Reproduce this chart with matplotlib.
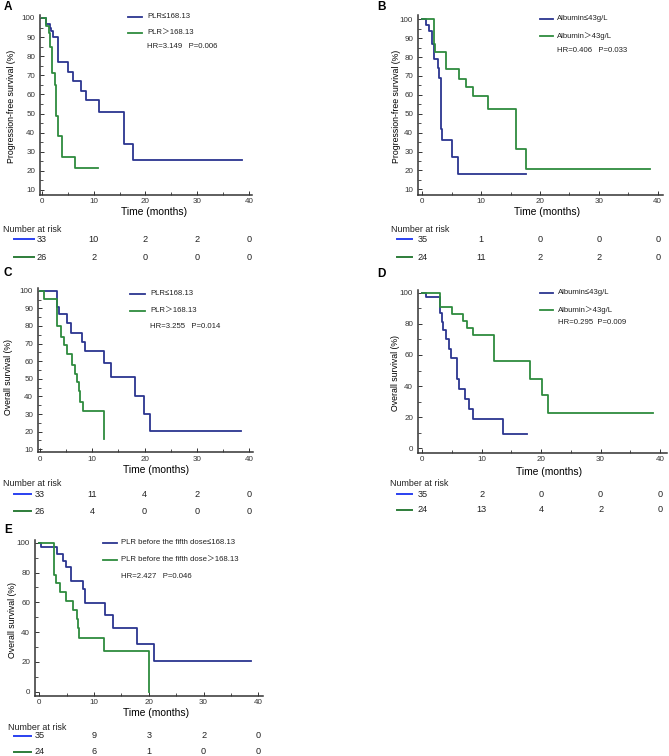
import matplotlib.pyplot as plt
from matplotlib.lines import Line2D
from matplotlib.ticker import MultipleLocator
import matplotlib.transforms as mtransforms

plt.rcParams['font.family'] = ['Liberation Sans', 'Noto Sans CJK SC', 'DejaVu Sans']

W, H = 669, 756
BLUE = '#2b3590'
GREEN = '#2e8b3e'
RISK_BLUE = '#2a40f0'
RISK_GREEN = '#2e7d3a'

risk_times = [0, 10, 20, 30, 40]

# A: PFS by PLR
a_blue_t = [0, 0.8, 1.5, 1.8, 2.1, 3.1, 5.0, 6.0, 7.5, 8.5, 11.0, 15.9, 17.6, 38.7]
a_blue_s = [100, 97, 95, 93, 90, 77, 72, 67, 62, 57, 51, 34, 25.5, 25.5]
a_green_t = [0, 0.7, 1.3, 1.6, 2.0, 2.5, 2.8, 3.1, 3.9, 6.3, 10.8]
a_green_s = [100, 96, 92, 85, 71, 65, 48.5, 38.5, 27.5, 21.5, 21.5]
a_risk_blue = [33, 10, 2, 2, 0]
a_risk_green = [26, 2, 0, 0, 0]

# B: PFS by albumin
b_blue_t = [0, 0.7, 1.1, 1.6, 2.0, 2.7, 2.9, 3.1, 3.2, 3.4, 5.1, 6.0, 17.7]
b_blue_s = [100, 97, 94, 87, 79, 74, 69, 63, 42, 36, 27, 18, 18]
b_green_t = [0, 2.0, 2.2, 4.0, 6.3, 7.5, 8.7, 11.1, 16.0, 17.6, 38.7]
b_green_s = [100, 87, 82.5, 73.5, 68.5, 64, 59.5, 52.5, 31.5, 21, 21]
b_risk_blue = [35, 1, 0, 0, 0]
b_risk_green = [24, 11, 2, 2, 0]

# C: OS by PLR
c_blue_t = [0, 3.2, 3.6, 5.1, 6.0, 8.0, 8.6, 12.2, 13.5, 18.2, 19.9, 21.1, 38.5]
c_blue_s = [100, 91, 86.5, 81.5, 76, 71, 66, 59, 51, 40, 30, 20.3, 20.3]
c_green_t = [0, 0.8, 3.2, 4.0, 4.6, 5.1, 6.2, 6.7, 7.1, 7.4, 7.6, 8.3, 12.2]
c_green_s = [100, 95.5, 80, 74, 69, 64, 58, 53, 48, 43, 37, 31.5, 15.7]
c_risk_blue = [33, 11, 4, 2, 0]
c_risk_green = [26, 4, 0, 0, 0]

# D: OS by albumin
d_blue_t = [0, 0.55, 3.0, 3.25, 3.5, 4.0, 4.5, 4.9, 5.9, 6.2, 7.2, 7.9, 8.5, 13.5, 17.6]
d_blue_s = [100, 97, 87, 81, 76, 70.5, 64, 58, 44.5, 38, 32, 25.5, 19, 9.5, 9.5]
d_green_t = [0, 3.0, 5.0, 6.9, 7.5, 8.6, 12.1, 18.1, 20.2, 21.2, 38.9]
d_green_s = [100, 91, 86, 81.5, 77, 72.5, 56, 44.5, 34, 22.5, 22.5]
d_risk_blue = [35, 2, 0, 0, 0]
d_risk_green = [24, 13, 4, 2, 0]

# E: OS by PLR before the fifth dose
e_blue_t = [0, 0.4, 3.2, 4.3, 4.8, 5.8, 7.9, 8.3, 12.0, 13.4, 17.8, 20.9, 38.6]
e_blue_s = [100, 97, 92.5, 88, 83.5, 74, 69, 59.5, 51.5, 42.5, 32, 20.5, 20.5]
e_green_t = [0, 2.7, 3.0, 3.8, 4.8, 6.2, 6.8, 7.1, 7.3, 11.9, 20.1]
e_green_s = [100, 78.5, 73, 67, 61, 55, 48.5, 42.5, 36, 27, 0]
e_risk_blue = [35, 9, 3, 2, 0]
e_risk_green = [24, 6, 1, 0, 0]

fig = plt.figure(figsize=(W / 100, H / 100), dpi=100)


def fx(px):
    return px / W


def fy(py):
    return 1 - py / H


def panel(letter, rect, xcal, ycal, ymaj, ymin, ylabel, xlab_pos, ylab_pos,
          bt, bs, gt, gs, labels, hr, leg, risk, risk_rows):
    l, t, r, b = rect
    ax = fig.add_axes([fx(l), fy(b), fx(r - l), (b - t) / H])
    # pixel calibration -> limits
    x0p, x40p = xcal
    sx = (x40p - x0p) / 40
    ax.set_xlim((l - x0p) / sx, (r - x0p) / sx)
    (vhi, phi), (vlo, plo) = ycal
    sy = (plo - phi) / (vhi - vlo)
    ax.set_ylim(vlo - (b - plo) / sy, vhi + (phi - t) / sy)

    ax.step(bt, bs, where='post', color=BLUE, lw=1.3)
    ax.step(gt, gs, where='post', color=GREEN, lw=1.3)

    for s in ['top', 'right']:
        ax.spines[s].set_visible(False)
    for s in ['left', 'bottom']:
        ax.spines[s].set_linewidth(1.1)
        ax.spines[s].set_color('#333333')
    ax.xaxis.set_major_locator(MultipleLocator(10))
    ax.xaxis.set_minor_locator(MultipleLocator(5))
    ax.yaxis.set_major_locator(MultipleLocator(ymaj))
    ax.yaxis.set_minor_locator(MultipleLocator(ymin))
    ax.tick_params(which='both', direction='in', labelsize=5.8, colors='#333333')
    ax.tick_params(which='major', length=3, width=0.7)
    ax.tick_params(which='minor', length=2, width=0.6)
    ax.tick_params(axis='y', pad=3.5)
    ax.tick_params(axis='x', pad=2.5)

    ax.set_xlabel('Time (months)', fontsize=7.4)
    ax.xaxis.set_label_coords(*xlab_pos)
    ax.set_ylabel(ylabel, fontsize=6.3)
    ax.yaxis.set_label_coords(*ylab_pos)

    fig.text(fx(letter[1]), fy(letter[2]), letter[0], fontsize=8.5,
             fontweight='bold', ha='left', va='center')

    # legend drawn at figure pixel positions
    lx0, lx1, ly1, ly2, tx, hy = leg
    for yy, col, lab in [(ly1, BLUE, labels[0]), (ly2, GREEN, labels[1])]:
        fig.add_artist(Line2D([fx(lx0), fx(lx1)], [fy(yy), fy(yy)], color=col, lw=1.3))
        fig.text(fx(tx), fy(yy), lab, fontsize=5.6, va='center', ha='left', color='#222222')
    fig.text(fx(tx), fy(hy), hr, fontsize=5.6, va='center', ha='left', color='#222222')

    # number at risk
    nx, ny, r1, r2, hx0, hx1 = risk_rows
    fig.text(fx(nx), fy(ny), 'Number at risk', fontsize=6.4, va='center', ha='left',
             color='#222222')
    trans = mtransforms.blended_transform_factory(ax.transData, fig.transFigure)
    for yy, col, vals in [(r1, RISK_BLUE, risk[0]), (r2, RISK_GREEN, risk[1])]:
        fig.add_artist(Line2D([fx(hx0), fx(hx1)], [fy(yy), fy(yy)], color=col, lw=1.4))
        for tt, v in zip(risk_times, vals):
            ax.text(tt, fy(yy), str(v), transform=trans, fontsize=6.6, ha='center',
                    va='center', color='#222222', clip_on=False)
    return ax


panel(('A', 4, 7), (40, 15, 252, 195), (42, 249), ((100, 18), (10, 190)), 10, 5,
      'Progression-free survival (%)', (0.54, -0.069), (-0.113, 0.49),
      a_blue_t, a_blue_s, a_green_t, a_green_s,
      ['PLR≤168.13', 'PLR＞168.13'], 'HR=3.149   P=0.006',
      (128, 142, 17, 33, 147, 47), (a_risk_blue, a_risk_green),
      (3, 229, 239, 257, 14, 34))

panel(('B', 377, 7), (418, 15, 663, 195), (422.3, 657.7), ((100, 19.3), (10, 189.3)), 10, 5,
      'Progression-free survival (%)', (0.527, -0.069), (-0.069, 0.49),
      b_blue_t, b_blue_s, b_green_t, b_green_s,
      ['Albumin≤43g/L', 'Albumin＞43g/L'], 'HR=0.406   P=0.033',
      (540, 553, 19, 36, 557, 51), (b_risk_blue, b_risk_green),
      (391, 229, 239, 257, 397, 412))

panel(('C', 4, 273), (38, 288, 253, 452.5), (40, 249.3), ((100, 290.7), (10, 449.3)), 10, 5,
      'Overall survival (%)', (0.55, -0.073), (-0.116, 0.46),
      c_blue_t, c_blue_s, c_green_t, c_green_s,
      ['PLR≤168.13', 'PLR＞168.13'], 'HR=3.255   P=0.014',
      (130, 145, 294, 311, 150, 327), (c_risk_blue, c_risk_green),
      (3, 484, 494, 511, 14, 31))

panel(('D', 377, 274), (418, 290, 667, 452.7), (422.3, 660), ((100, 292.7), (0, 448.3)), 20, 10,
      'Overall survival (%)', (0.526, -0.085), (-0.072, 0.49),
      d_blue_t, d_blue_s, d_green_t, d_green_s,
      ['Albumin≤43g/L', 'Albumin＞43g/L'], 'HR=0.295  P=0.009',
      (540, 553, 293, 310, 558, 323), (d_risk_blue, d_risk_green),
      (390, 484, 494, 510, 397, 412))

panel(('E', 4, 530), (35, 540, 263, 696), (39.3, 258.3), ((100, 542.7), (0, 691.7)), 20, 10,
      'Overall survival (%)', (0.53, -0.074), (-0.079, 0.49),
      e_blue_t, e_blue_s, e_green_t, e_green_s,
      ['PLR before the fifth dose≤168.13', 'PLR before the fifth dose＞168.13'],
      'HR=2.427   P=0.046',
      (103, 117, 543, 560, 121, 577), (e_risk_blue, e_risk_green),
      (8, 727, 736, 752, 14, 31))

fig.savefig('out.png', dpi=100)
